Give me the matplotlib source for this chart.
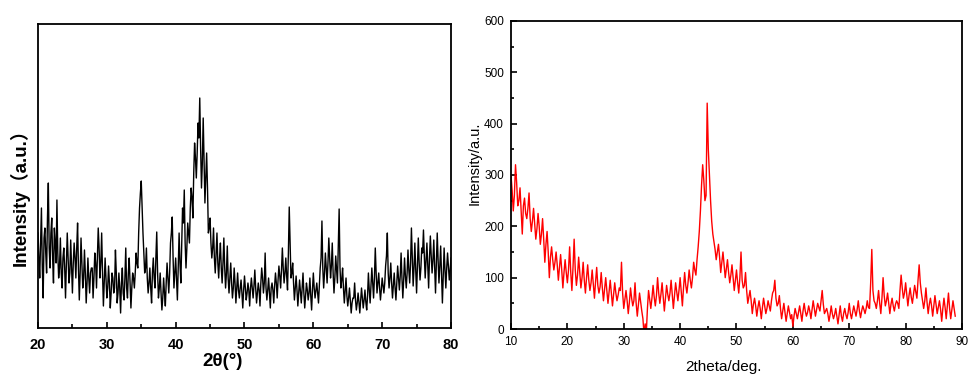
import matplotlib
matplotlib.use('Agg')
import matplotlib.pyplot as plt
from matplotlib.ticker import MultipleLocator
import numpy as np

# левый график: интенсивность (отн. ед.), шаг 0.25 град от 20
left_start = 20.0
left_step = 0.25
left_y = [95, 50, 120, 30, 100, 55, 145, 60, 110,
          45, 85, 128, 50, 90, 40, 80, 30, 95, 45, 88, 35,
          85, 50, 105, 28, 90, 40, 78, 25, 70, 35, 60, 30,
          75, 40, 100, 50, 95, 22, 70, 30, 62, 20, 55, 35,
          78, 25, 55, 15, 60, 28, 80, 30, 70, 20, 55, 40,
          75, 60, 120, 147, 95, 55, 80, 35, 60, 25, 70, 40,
          96, 30, 55, 18, 50, 22, 65, 35, 85, 111, 40, 70,
          28, 95, 45, 120, 138, 60, 105, 85, 140, 110, 185, 150,
          205, 230, 140, 210, 125, 175, 95, 110, 70, 100, 55, 95,
          50, 85, 45, 90, 40, 82, 35, 65, 30, 60, 25, 55,
          30, 48, 20, 52, 28, 45, 22, 50, 30, 58, 25, 45,
          22, 60, 35, 75, 28, 50, 20, 45, 25, 55, 30, 62,
          40, 80, 45, 70, 38, 121, 50, 65, 28, 52, 22, 48,
          25, 55, 20, 45, 28, 50, 18, 55, 30, 45, 25, 60,
          107, 40, 75, 45, 90, 50, 85, 35, 72, 45, 119, 40,
          60, 25, 50, 22, 40, 15, 30, 45, 18, 35, 15, 40,
          20, 38, 18, 55, 25, 60, 30, 80, 35, 55, 28, 50,
          35, 62, 95, 40, 65, 30, 55, 28, 62, 38, 75, 30,
          70, 40, 78, 45, 100, 42, 85, 35, 90, 48, 80, 98,
          50, 85, 40, 92, 55, 88, 35, 95, 45, 82, 25, 80,
          40, 75, 48, 70]
# промежуточные точки (сдвиг на пол-шага), по 4 на градус
left_y_mid = [70, 85, 60, 90, 75, 110, 80, 95,
              70, 100, 65, 75, 60, 55, 70, 60,
              65, 70, 55, 60, 65, 70, 80, 60,
              55, 65, 50, 55, 45, 50, 55, 60,
              50, 65, 70, 80, 65, 55, 45, 50,
              40, 45, 35, 50, 40, 55, 35, 40,
              45, 35, 50, 40, 55, 45, 40, 50,
              55, 65, 95, 135, 120, 75, 60, 50,
              45, 40, 55, 50, 70, 55, 40, 35,
              30, 35, 45, 50, 55, 95, 70, 55,
              50, 60, 65, 85, 105, 85, 80, 95,
              120, 130, 155, 170, 175, 190, 180, 165,
              170, 150, 140, 100, 85, 80, 70, 75,
              65, 70, 60, 65, 60, 55, 50, 50,
              45, 40, 45, 40, 38, 40, 35, 38,
              40, 35, 38, 40, 40, 42, 40, 35,
              38, 45, 50, 45, 40, 38, 35, 40,
              38, 42, 45, 48, 52, 58, 60, 55,
              52, 75, 85, 55, 45, 40, 38, 35,
              36, 40, 35, 33, 38, 35, 32, 38,
              40, 38, 35, 42, 70, 60, 55, 60,
              65, 70, 62, 55, 50, 58, 80, 60,
              48, 40, 38, 32, 30, 28, 25, 30,
              28, 25, 26, 28, 30, 28, 26, 32,
              38, 42, 45, 50, 55, 45, 40, 38,
              42, 45, 72, 55, 50, 45, 42, 40,
              45, 50, 52, 50, 48, 52, 55, 58,
              65, 70, 60, 58, 62, 65, 60, 75,
              72, 68, 62, 70, 72, 68, 62, 65,
              68, 62, 55, 52, 58, 60, 62, 58]

# правый график: интенсивность, шаг 0.4 град от 10
right_start = 10.0
right_step = 0.4
right_y = [300, 230, 320, 240, 275, 185, 255, 215, 265, 190,
           235, 175, 225, 165, 215, 130, 190, 100, 160, 115,
           150, 95, 145, 80, 135, 90, 160, 75, 175, 85,
           140, 80, 130, 70, 125, 75, 115, 60, 120, 70,
           110, 55, 100, 50, 95, 45, 90, 55, 80, 130,
           40, 75, 30, 80, 45, 90, 25, 70, 35, -10,
           -8, 75, 40, 85, 45, 100, 50, 90, 35, 85,
           55, 95, 40, 90, 55, 100, 45, 110, 70, 115,
           80, 130, 105, 160, 230, 320, 250, 440, 300, 210,
           170, 135, 165, 110, 150, 100, 135, 90, 125, 75,
           115, 70, 150, 80, 110, 50, 75, 30, 60, 25,
           55, 20, 60, 30, 55, 35, 70, 95, 45, 65,
           20, 50, 15, 45, 20, 5, 40, 20, 45, 15,
           50, 25, 45, 20, 55, 25, 50, 35, 75, 30,
           40, 15, 45, 20, 40, 10, 45, 15, 40, 20,
           50, 20, 45, 25, 55, 22, 45, 30, 55, 40,
           155, 55, 40, 75, 30, 100, 45, 70, 30, 60,
           35, 55, 40, 105, 60, 90, 45, 80, 50, 85,
           60, 125, 70, 40, 80, 30, 60, 25, 65, 30,
           55, 15, 60, 20, 70, 20, 55, 25]
right_y_mid = [270, 260, 285, 250, 230, 240, 225, 235, 215, 210,
               205, 195, 200, 185, 175, 165, 150, 140, 135, 130,
               125, 120, 115, 110, 110, 115, 110, 120, 115, 105,
               110, 100, 95, 100, 95, 90, 88, 92, 85, 82,
               80, 78, 75, 72, 70, 68, 70, 66, 75, 70,
               58, 55, 52, 60, 55, 50, 48, 52, 20, 10,
               40, 58, 60, 62, 65, 70, 68, 62, 60, 68,
               70, 68, 65, 72, 75, 72, 80, 85, 90, 95,
               100, 115, 135, 190, 280, 290, 260, 350, 250, 185,
               155, 150, 140, 130, 125, 118, 110, 105, 100, 95,
               90, 100, 95, 85, 75, 62, 55, 48, 45, 42,
               40, 42, 45, 40, 45, 55, 75, 60, 50, 40,
               35, 32, 30, 32, 28, 25, 30, 32, 30, 35,
               35, 32, 35, 38, 40, 38, 42, 55, 48, 35,
               30, 28, 30, 28, 25, 28, 25, 30, 28, 32,
               30, 32, 35, 38, 35, 35, 38, 40, 42, 90,
               75, 50, 55, 50, 60, 65, 55, 50, 48, 45,
               48, 50, 75, 80, 70, 68, 65, 62, 68, 72,
               95, 90, 55, 55, 52, 48, 45, 45, 48, 42,
               38, 40, 42, 45, 40, 38, 40]


def merge(start, step, main, mid):
    x = np.concatenate([start + step * np.arange(len(main)),
                        start + step / 2 + step * np.arange(len(mid))])
    y = np.concatenate([main, mid])
    order = np.argsort(x, kind='stable')
    return x[order], y[order]


left_x, left_vals = merge(left_start, left_step, left_y, left_y_mid)
right_x, right_vals = merge(right_start, right_step, right_y, right_y_mid)

W, H = 978, 387
fig = plt.figure(figsize=(W / 100, H / 100), dpi=100)

bold_font = ['Liberation Sans', 'Noto Sans CJK SC', 'DejaVu Sans']
narrow_font = ['Liberation Sans Narrow', 'Liberation Sans', 'DejaVu Sans']

# ---- левая панель ----
ax1 = fig.add_axes([38 / W, (H - 328) / H, (451 - 38) / W, (328 - 24) / H])
ax1.plot(left_x, left_vals, color='black', lw=1.0)
ax1.set_xlim(20, 80)
ax1.set_ylim(0, 304)
ax1.set_yticks([])
ax1.xaxis.set_major_locator(MultipleLocator(10))
ax1.xaxis.set_minor_locator(MultipleLocator(5))
ax1.tick_params(axis='x', which='major', direction='in', length=4, width=1.2, pad=7)
ax1.tick_params(axis='x', which='minor', direction='in', length=3, width=1.2)
for lab in ax1.get_xticklabels():
    lab.set_fontfamily(bold_font)
    lab.set_fontweight('bold')
    lab.set_fontsize(10.5)
for sp in ax1.spines.values():
    sp.set_linewidth(1.3)
fig.text(20 / W, 1 - 193 / H, 'Intensity（a.u.）', rotation=90, ha='center', va='center',
         fontsize=13.5, fontweight='bold', family=bold_font)
fig.text(223 / W, 1 - 362 / H, '2θ(°)', ha='center', va='center',
         fontsize=13.5, fontweight='bold', family=bold_font)

# ---- правая панель ----
ax2 = fig.add_axes([511 / W, (H - 329) / H, (962 - 511) / W, (329 - 21) / H])
ax2.plot(right_x, right_vals, color='#ff0000', lw=1.0)
ax2.set_xlim(10, 90)
ax2.set_ylim(0, 600)
ax2.xaxis.set_major_locator(MultipleLocator(10))
ax2.xaxis.set_minor_locator(MultipleLocator(5))
ax2.yaxis.set_major_locator(MultipleLocator(100))
ax2.yaxis.set_minor_locator(MultipleLocator(50))
ax2.tick_params(which='major', direction='in', length=4, width=1.2, pad=5)
ax2.tick_params(which='minor', direction='in', length=2.5, width=1.2)
for lab in ax2.get_xticklabels() + ax2.get_yticklabels():
    lab.set_fontfamily(narrow_font)
    lab.set_fontsize(8.5)
for sp in ax2.spines.values():
    sp.set_linewidth(1.3)
fig.text(475 / W, 1 - 163 / H, 'Intensity/a.u.', rotation=90, ha='center', va='center',
         fontsize=10.5, family=narrow_font)
fig.text(723 / W, 1 - 367 / H, '2theta/deg.', ha='center', va='center',
         fontsize=11, family=narrow_font)

fig.savefig('out.png', dpi=100)
